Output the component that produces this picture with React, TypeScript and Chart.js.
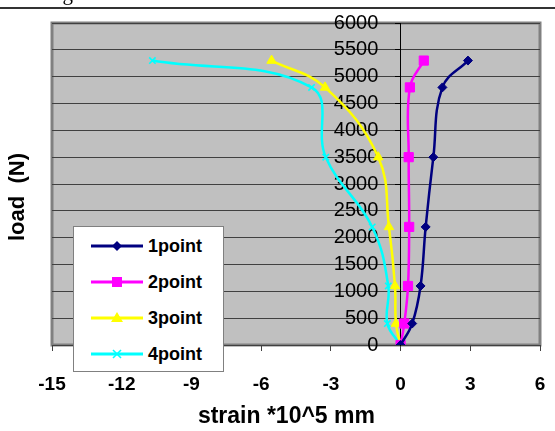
import React, { useEffect, useRef } from "react";
import { Chart, registerables } from "chart.js";

Chart.register(...registerables);

// ---- data ----
const loads = [0, 400, 1100, 2200, 3500, 4800, 5300];
const strain1 = [0, 0.5, 0.86, 1.08, 1.41, 1.8, 2.9];
const strain2 = [0, 0.16, 0.32, 0.37, 0.35, 0.4, 1.0];
const strain3 = [0, -0.2, -0.24, -0.5, -0.96, -3.25, -5.55];
const strain4 = [0, -0.57, -0.53, -1.22, -3.22, -3.83, -10.68];
const seriesNames = ["1point", "2point", "3point", "4point"];
const seriesColors = ["#000080", "#FF00FF", "#FFFF00", "#00FFFF"];
const seriesMarkers = ["rectRot", "rect", "triangle", "crossRot"];
const seriesRadius = [4.5, 6.5, 5.5, 4.5];
const xMin = -15;
const xMax = 6;
const xStep = 3;
const yMin = 0;
const yMax = 6000;
const yStep = 500;
const xTitle = "strain *10^5 mm";
const yTitle = "load  (N)";
const caption = "Figure 8: Total Strain Curve of C";

const seriesValues = [strain1, strain2, strain3, strain4];
const SANS = "'Liberation Sans', Arial, sans-serif";

Chart.defaults.font.family = SANS;

const plotBg = {
  id: "plotBg",
  beforeDraw(chart: any) {
    const { ctx, chartArea } = chart;
    const { left, top, right, bottom } = chartArea;
    ctx.save();
    ctx.fillStyle = "#C0C0C0";
    ctx.fillRect(left, top, right - left, bottom - top);
    ctx.strokeStyle = "#808080";
    ctx.lineWidth = 3;
    ctx.strokeRect(left, top, right - left, bottom - top);
    ctx.restore();
  },
};

function Marker({ kind, color }: { kind: string; color: string }) {
  const c = 26;
  const m = 10;
  let shape: any = null;
  if (kind === "rectRot") {
    shape = <polygon points={`${c},${m - 5} ${c + 5},${m} ${c},${m + 5} ${c - 5},${m}`} fill={color} />;
  } else if (kind === "rect") {
    shape = <rect x={c - 5} y={m - 5} width={10} height={10} fill={color} />;
  } else if (kind === "triangle") {
    shape = <polygon points={`${c},${m - 6} ${c + 6},${m + 4} ${c - 6},${m + 4}`} fill={color} />;
  } else {
    shape = (
      <g stroke={color} strokeWidth={1.6}>
        <line x1={c - 4} y1={m - 4} x2={c + 4} y2={m + 4} />
        <line x1={c - 4} y1={m + 4} x2={c + 4} y2={m - 4} />
      </g>
    );
  }
  return (
    <svg width={52} height={20} style={{ display: "block" }}>
      <line x1={0} y1={m} x2={52} y2={m} stroke={color} strokeWidth={3} />
      {shape}
    </svg>
  );
}

export default function App() {
  const canvasRef = useRef<HTMLCanvasElement | null>(null);

  useEffect(() => {
    document.body.style.margin = "0";
    const canvas = canvasRef.current;
    if (!canvas) return;
    const datasets = seriesNames.map((name, i) => ({
      label: name,
      data: loads.map((ld, j) => ({ x: seriesValues[i][j], y: ld })),
      borderColor: seriesColors[i],
      backgroundColor: seriesColors[i],
      pointBackgroundColor: seriesColors[i],
      pointBorderColor: seriesColors[i],
      pointStyle: seriesMarkers[i],
      pointRadius: seriesRadius[i],
      pointBorderWidth: seriesMarkers[i] === "crossRot" ? 1.6 : 1,
      borderWidth: 2.5,
      showLine: true,
      tension: 0.4,
      fill: false,
    }));
    const chart = new Chart(canvas, {
      type: "scatter",
      data: { datasets },
      plugins: [plotBg],
      options: {
        animation: false,
        responsive: false,
        maintainAspectRatio: false,
        layout: { padding: { left: 52, right: 15, top: 23, bottom: 0 } },
        plugins: {
          legend: { display: false },
          tooltip: { enabled: false },
          title: { display: false },
        },
        scales: {
          x: {
            type: "linear",
            position: "bottom",
            min: xMin,
            max: xMax,
            afterFit: (s: any) => {
              s.height = 86;
              s.paddingLeft = 0;
              s.paddingRight = 0;
            },
            ticks: {
              stepSize: xStep,
              autoSkip: false,
              color: "#000",
              padding: 22,
              font: { family: SANS, size: 19, weight: "bold" },
            },
            grid: {
              drawOnChartArea: false,
              drawTicks: true,
              tickLength: 6,
              tickColor: "#404040",
            },
            border: { display: true, color: "#404040", width: 1 },
            title: {
              display: true,
              text: xTitle + "   ",
              color: "#000",
              padding: { top: 0, bottom: 1 },
              font: { family: SANS, size: 23, weight: "bold" },
            },
          },
          y: {
            type: "linear",
            position: { x: 0 } as any,
            min: yMin,
            max: yMax,
            afterFit: (s: any) => {
              s.width = 0;
              s.paddingLeft = 0;
              s.paddingRight = 0;
              s.paddingTop = 0;
              s.paddingBottom = 0;
            },
            ticks: {
              stepSize: yStep,
              autoSkip: false,
              color: "#000",
              font: { family: SANS, size: 20, weight: "normal" },
              callback: (v: any) => String(v) + "    ",
            },
            grid: {
              color: "#404040",
              lineWidth: 1,
              drawTicks: true,
              tickLength: 5,
              tickColor: "#000",
            },
            border: { display: true, color: "#000", width: 1 },
          },
        },
      },
    });
    return () => chart.destroy();
  }, []);

  return (
    <div style={{ position: "relative", width: 555, height: 431, overflow: "hidden", background: "#fff" }}>
      <canvas ref={canvasRef} width={555} height={431} style={{ position: "absolute", left: 0, top: 0 }} />
      <div
        style={{
          position: "absolute",
          left: 45,
          top: -19,
          fontFamily: "'Liberation Serif', 'Times New Roman', serif",
          fontSize: 21,
          whiteSpace: "nowrap",
          color: "#000",
          lineHeight: "24px",
        }}
      >
        {caption}
      </div>
      <div style={{ position: "absolute", left: 0, top: 7, width: 555, height: 1.5, background: "#333" }} />
      <div
        style={{
          position: "absolute",
          left: 17,
          top: 197,
          transform: "translate(-50%, -50%) rotate(-90deg)",
          fontFamily: SANS,
          fontWeight: "bold",
          fontSize: 22,
          whiteSpace: "pre",
          color: "#000",
        }}
      >
        {yTitle}
      </div>
      <div
        style={{
          position: "absolute",
          left: 73,
          top: 226,
          width: 151,
          height: 146,
          background: "#fff",
          border: "1px solid #808080",
          boxSizing: "border-box",
        }}
      >
        {seriesNames.map((name, i) => (
          <div
            key={name}
            style={{
              position: "absolute",
              left: 17,
              top: 9 + i * 36,
              height: 20,
              display: "flex",
              alignItems: "center",
              gap: 5,
            }}
          >
            <Marker kind={seriesMarkers[i]} color={seriesColors[i]} />
            <span
              style={{
                fontFamily: SANS,
                fontWeight: "bold",
                fontSize: 18,
                color: "#000",
                lineHeight: "20px",
              }}
            >
              {name}
            </span>
          </div>
        ))}
      </div>
    </div>
  );
}
